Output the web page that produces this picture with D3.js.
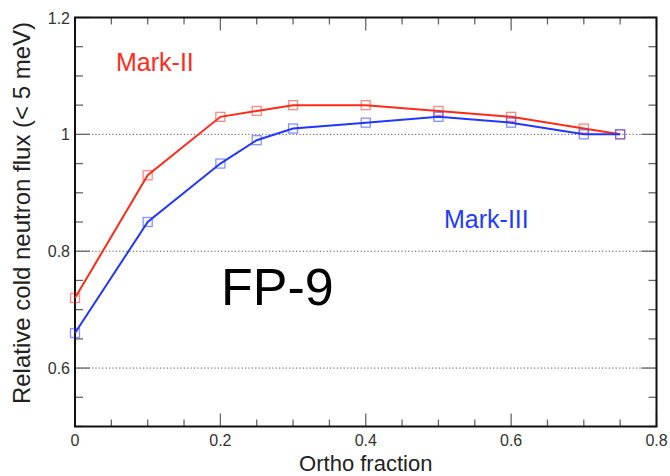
<!DOCTYPE html>
<html><head><meta charset="utf-8">
<script src="https://cdn.jsdelivr.net/npm/d3@7"></script>
<style>body{margin:0;background:#fff}svg{display:block}text{font-family:"Liberation Sans",Arial,Helvetica,sans-serif}</style>
</head><body>
<script>
const orthoFraction = [0, 0.1, 0.2, 0.25, 0.3, 0.4, 0.5, 0.6, 0.7, 0.75];
const markII  = [0.72, 0.93, 1.03, 1.04, 1.05, 1.05, 1.04, 1.03, 1.01, 1.00];
const markIII = [0.66, 0.85, 0.95, 0.99, 1.01, 1.02, 1.03, 1.02, 1.00, 1.00];
const xTicks = [0, 0.2, 0.4, 0.6, 0.8];
const yTicks = [0.6, 0.8, 1, 1.2];
const gridY = [0.6, 0.8, 1.0];

const W = 670, H = 476;
const L = 75, R = 656.5, T = 17.5, B = 426.5;
const svg = d3.select("body").append("svg").attr("width", W).attr("height", H);
const x = d3.scaleLinear().domain([0, 0.8]).range([L, R]);
const y = d3.scaleLinear().domain([0.5, 1.2]).range([B, T]);

// gridlines
svg.append("g").selectAll("line").data(gridY).join("line")
  .attr("x1", L).attr("x2", R).attr("y1", d => y(d)).attr("y2", d => y(d))
  .attr("stroke", "#555").attr("stroke-width", 1).attr("stroke-dasharray", "1.2,2.2");

const minorX = d3.range(0, 0.8001, 0.05).map(v => +v.toFixed(2));
const minorY = d3.range(0.5, 1.2001, 0.05).map(v => +v.toFixed(2));
const isMajor = v => Math.abs(Math.round(v * 5) - v * 5) < 1e-6;
const tc = "#666";
const gx = svg.append("g");
gx.selectAll("line.b").data(minorX).join("line").attr("class","b")
  .attr("x1", d => x(d)).attr("x2", d => x(d)).attr("y1", B).attr("y2", d => B - (isMajor(d) ? 13 : 7))
  .attr("stroke", tc).attr("stroke-width", 1.3);
gx.selectAll("line.t").data(minorX).join("line").attr("class","t")
  .attr("x1", d => x(d)).attr("x2", d => x(d)).attr("y1", T).attr("y2", d => T + (isMajor(d) ? 13 : 7))
  .attr("stroke", tc).attr("stroke-width", 1.3);
gx.selectAll("line.l").data(minorY).join("line").attr("class","l")
  .attr("y1", d => y(d)).attr("y2", d => y(d)).attr("x1", L).attr("x2", d => L + (isMajor(d) ? 15 : 8))
  .attr("stroke", tc).attr("stroke-width", 1.3);
gx.selectAll("line.r").data(minorY).join("line").attr("class","r")
  .attr("y1", d => y(d)).attr("y2", d => y(d)).attr("x1", R).attr("x2", d => R - (isMajor(d) ? 15 : 8))
  .attr("stroke", tc).attr("stroke-width", 1.3);

svg.append("rect").attr("x", L).attr("y", T).attr("width", R - L).attr("height", B - T)
  .attr("fill", "none").attr("stroke", "#111").attr("stroke-width", 2);

svg.append("g").selectAll("text").data(xTicks).join("text")
  .attr("x", d => x(d)).attr("y", B + 19).attr("text-anchor", "middle")
  .attr("font-size", 16).attr("fill", "#333").text(d => d === 0 ? "0" : d3.format(".1f")(d));
svg.append("g").selectAll("text").data(yTicks).join("text")
  .attr("x", L - 5).attr("y", d => y(d) + 6).attr("text-anchor", "end")
  .attr("font-size", 16).attr("fill", "#333").text(d => d === 1 ? "1" : d3.format(".1f")(d));

svg.append("text").attr("x", (L + R) / 2).attr("y", 471).attr("text-anchor", "middle")
  .attr("font-size", 22).attr("fill", "#222").text("Ortho fraction");
svg.append("text").attr("transform", "translate(30,213) rotate(-90)").attr("text-anchor", "middle")
  .attr("font-size", 24).attr("fill", "#222").text("Relative cold neutron flux (< 5 meV)");

const series = [
  {name: "Mark-II", vals: markII, color: "#ff2a1a"},
  {name: "Mark-III", vals: markIII, color: "#2236ff"}
];
const line = d3.line().x(d => x(d[0])).y(d => y(d[1]));
series.forEach(s => {
  const pts = orthoFraction.map((f, i) => [f, s.vals[i]]);
  svg.append("path").datum(pts).attr("d", line).attr("fill", "none")
    .attr("stroke", s.color).attr("stroke-width", 2);
  svg.append("g").selectAll("rect").data(pts).join("rect")
    .attr("x", d => x(d[0]) - 4.5).attr("y", d => y(d[1]) - 4.5).attr("width", 9).attr("height", 9)
    .attr("fill", "none").attr("stroke", s.color).attr("stroke-opacity", 0.55).attr("stroke-width", 1.3);
});

svg.append("text").attr("x", 116).attr("y", 71).attr("font-size", 25).attr("fill", "#ff2a1a").text("Mark-II");
svg.append("text").attr("x", 444).attr("y", 228).attr("font-size", 25).attr("fill", "#1f3aff").text("Mark-III");
svg.append("text").attr("x", 221).attr("y", 305).attr("font-size", 52).attr("fill", "#000").text("FP-9");
</script>
</body></html>
